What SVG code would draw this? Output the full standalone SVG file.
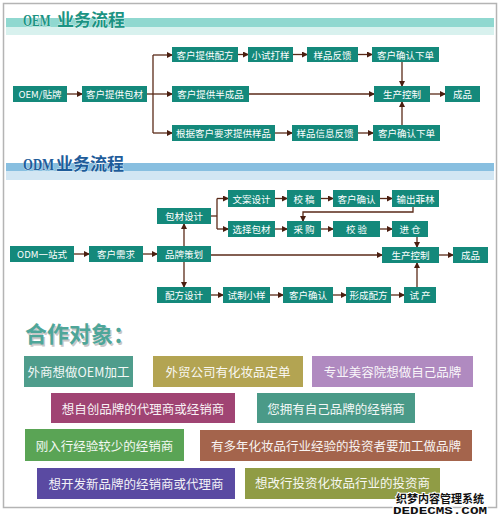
<svg xmlns="http://www.w3.org/2000/svg" width="500" height="522" viewBox="0 0 500 522">
<style>
.n rect{fill:#14897b}
.n text{fill:#fff;font-family:"Noto Sans CJK SC","Noto Sans",sans-serif;font-size:9.5px;text-anchor:middle;dominant-baseline:central}
.c path{fill:none;stroke:#5a2a18;stroke-width:1.3}
.b text{fill:#fff;font-family:"Noto Sans CJK SC","Noto Sans",sans-serif;font-size:12.5px;text-anchor:middle;dominant-baseline:central;opacity:0.93}
.ttl{font-family:"Liberation Serif","Noto Sans CJK SC",serif;font-weight:bold;font-size:17px;stroke:#fff;stroke-width:0.6;paint-order:stroke}
</style>
<defs>
<marker id="ah" markerWidth="6" markerHeight="6" refX="5" refY="3" orient="auto" markerUnits="userSpaceOnUse">
<path d="M0,0 L6,3 L0,6 Z" fill="#4a1e10"/>
</marker>
</defs>
<rect x="0" y="0" width="500" height="522" fill="#fff"/>
<rect x="3.5" y="3.5" width="493" height="504" fill="none" stroke="#b4b4b4" stroke-width="1.5"/>

<!-- OEM header -->
<rect x="6" y="18" width="488" height="9" fill="#90d8d0"/>
<rect x="6" y="27" width="488" height="8" fill="#d8f1ee"/>
<text class="ttl" transform="translate(23,26) scale(0.68,1)" fill="#1b9383">OEM</text>
<text class="ttl" x="57" y="26" fill="#1b9383">业务流程</text>

<!-- ODM header -->
<rect x="6" y="163" width="488" height="8" fill="#88bfe0"/>
<rect x="6" y="171" width="488" height="9" fill="#d2e6f3"/>
<text class="ttl" transform="translate(23,170) scale(0.75,1)" fill="#1e5c9a">ODM</text>
<text class="ttl" x="56" y="170" fill="#1e5c9a">业务流程</text>

<g class="c" id="connectors">
<path d="M67,94 H82" marker-end="url(#ah)"/>
<path d="M147,94 H172" marker-end="url(#ah)"/>
<path d="M153,55 V133"/>
<path d="M153,55 H172" marker-end="url(#ah)"/>
<path d="M153,133 H172" marker-end="url(#ah)"/>
<path d="M238,54.5 H248" marker-end="url(#ah)"/>
<path d="M293,54.5 H307" marker-end="url(#ah)"/>
<path d="M358,54.5 H372" marker-end="url(#ah)"/>
<path d="M402,62 V86" marker-end="url(#ah)"/>
<path d="M402,125 V102" marker-end="url(#ah)"/>
<path d="M249,94 H374" marker-end="url(#ah)"/>
<path d="M430,94 H445" marker-end="url(#ah)"/>
<path d="M275,133 H292" marker-end="url(#ah)"/>
<path d="M358,133 H373" marker-end="url(#ah)"/>

<path d="M74,254 H89" marker-end="url(#ah)"/>
<path d="M143,254 H157" marker-end="url(#ah)"/>
<path d="M184,246 V224" marker-end="url(#ah)"/>
<path d="M184,262 V287" marker-end="url(#ah)"/>
<path d="M211,216 H217"/>
<path d="M217,198.5 V229"/>
<path d="M217,198.5 H228" marker-end="url(#ah)"/>
<path d="M217,229 H228" marker-end="url(#ah)"/>
<path d="M275,198.5 H287" marker-end="url(#ah)"/>
<path d="M321,198.5 H333" marker-end="url(#ah)"/>
<path d="M380,198.5 H392" marker-end="url(#ah)"/>
<path d="M413,207 V212 H303 V221" marker-end="url(#ah)"/>
<path d="M275,229 H287" marker-end="url(#ah)"/>
<path d="M321,229 H333" marker-end="url(#ah)"/>
<path d="M380,229 H392" marker-end="url(#ah)"/>
<path d="M417,237 V247" marker-end="url(#ah)"/>
<path d="M211,255 H382" marker-end="url(#ah)"/>
<path d="M439,255 H453" marker-end="url(#ah)"/>
<path d="M211,295 H223" marker-end="url(#ah)"/>
<path d="M270,295 H283" marker-end="url(#ah)"/>
<path d="M333,295 H346" marker-end="url(#ah)"/>
<path d="M391,295 H404" marker-end="url(#ah)"/>
<path d="M417,287 V263" marker-end="url(#ah)"/>
</g>

<!-- OEM nodes -->
<g class="n" id="oem1"><rect x="13" y="86" width="54" height="16"/><text x="40" y="94">OEM/贴牌</text></g>
<g class="n" id="oem2"><rect x="82" y="86" width="65" height="16"/><text x="114.5" y="94">客户提供包材</text></g>
<g class="n" id="oem3"><rect x="172" y="47" width="66" height="15"/><text x="205" y="54.5">客户提供配方</text></g>
<g class="n" id="oem4"><rect x="172" y="86" width="77" height="16"/><text x="210.5" y="94">客户提供半成品</text></g>
<g class="n" id="oem5"><rect x="172" y="125" width="103" height="16"/><text x="223.5" y="133">根据客户要求提供样品</text></g>
<g class="n" id="oem6"><rect x="248" y="47" width="45" height="15"/><text x="270.5" y="54.5">小试打样</text></g>
<g class="n" id="oem7"><rect x="307" y="47" width="51" height="15"/><text x="332.5" y="54.5">样品反馈</text></g>
<g class="n" id="oem8"><rect x="372" y="47" width="67" height="15"/><text x="405.5" y="54.5">客户确认下单</text></g>
<g class="n" id="oem9"><rect x="374" y="86" width="56" height="16"/><text x="402" y="94">生产控制</text></g>
<g class="n" id="oem10"><rect x="445" y="86" width="35" height="16"/><text x="462.5" y="94">成品</text></g>
<g class="n" id="oem11"><rect x="292" y="125" width="66" height="16"/><text x="325" y="133">样品信息反馈</text></g>
<g class="n" id="oem12"><rect x="373" y="125" width="67" height="16"/><text x="406.5" y="133">客户确认下单</text></g>

<!-- ODM nodes -->
<g class="n" id="odm1"><rect x="10" y="246" width="64" height="16"/><text x="42" y="254">ODM一站式</text></g>
<g class="n" id="odm2"><rect x="89" y="246" width="54" height="16"/><text x="116" y="254">客户需求</text></g>
<g class="n" id="odm3"><rect x="157" y="246" width="54" height="16"/><text x="184" y="254">品牌策划</text></g>
<g class="n" id="odm4"><rect x="157" y="208" width="54" height="16"/><text x="184" y="216">包材设计</text></g>
<g class="n" id="odm5"><rect x="157" y="287" width="54" height="16"/><text x="184" y="295">配方设计</text></g>
<g class="n" id="odm6"><rect x="228" y="190" width="47" height="17"/><text x="251.5" y="198.5">文案设计</text></g>
<g class="n" id="odm7"><rect x="228" y="221" width="47" height="16"/><text x="251.5" y="229">选择包材</text></g>
<g class="n" id="odm8"><rect x="223" y="287" width="47" height="16"/><text x="246.5" y="295">试制小样</text></g>
<g class="n" id="odm9"><rect x="287" y="190" width="34" height="17"/><text x="304" y="198.5">校 稿</text></g>
<g class="n" id="odm10"><rect x="333" y="190" width="47" height="17"/><text x="356.5" y="198.5">客户确认</text></g>
<g class="n" id="odm11"><rect x="392" y="190" width="47" height="17"/><text x="415.5" y="198.5">输出菲林</text></g>
<g class="n" id="odm12"><rect x="287" y="221" width="34" height="16"/><text x="304" y="229">采 购</text></g>
<g class="n" id="odm13"><rect x="333" y="221" width="47" height="16"/><text x="356.5" y="229">校 验</text></g>
<g class="n" id="odm14"><rect x="392" y="221" width="36" height="16"/><text x="410" y="229">进 仓</text></g>
<g class="n" id="odm15"><rect x="382" y="247" width="57" height="16"/><text x="410.5" y="255">生产控制</text></g>
<g class="n" id="odm16"><rect x="453" y="247" width="35" height="16"/><text x="470.5" y="255">成品</text></g>
<g class="n" id="odm17"><rect x="283" y="287" width="50" height="16"/><text x="308" y="295">客户确认</text></g>
<g class="n" id="odm18"><rect x="346" y="287" width="45" height="16"/><text x="368.5" y="295">形成配方</text></g>
<g class="n" id="odm19"><rect x="404" y="287" width="32" height="16"/><text x="420" y="295">试 产</text></g>

<!-- cooperation -->
<text x="26.5" y="343.5" font-family="'Noto Sans CJK SC',sans-serif" font-weight="bold" font-size="22" fill="#c8c8c8">合作对象：</text>
<text x="25" y="342" font-family="'Noto Sans CJK SC',sans-serif" font-weight="bold" font-size="22" fill="#4ea699">合作对象：</text>

<g class="b" id="b1"><rect x="24" y="356" width="109" height="31" fill="#4f9d8c"/><text x="78.5" y="371.5">外商想做OEM加工</text></g>
<g class="b" id="b2"><rect x="153" y="356" width="150" height="31" fill="#b3a452"/><text x="228" y="371.5">外贸公司有化妆品定单</text></g>
<g class="b" id="b3"><rect x="312" y="356" width="161" height="31" fill="#b08ac0"/><text x="392.5" y="371.5">专业美容院想做自己品牌</text></g>
<g class="b" id="b4"><rect x="51" y="393" width="184" height="30" fill="#a04473"/><text x="143" y="408">想自创品牌的代理商或经销商</text></g>
<g class="b" id="b5"><rect x="257" y="393" width="158" height="30" fill="#4a9a88"/><text x="336" y="408">您拥有自己品牌的经销商</text></g>
<g class="b" id="b6"><rect x="25" y="429" width="159" height="32" fill="#5aa455"/><text x="104.5" y="445">刚入行经验较少的经销商</text></g>
<g class="b" id="b7"><rect x="200" y="430" width="272" height="31" fill="#a4644c"/><text x="336" y="445.5">有多年化妆品行业经验的投资者要加工做品牌</text></g>
<g class="b" id="b8"><rect x="37" y="468" width="198" height="31" fill="#5a4aa2"/><text x="136" y="483.5">想开发新品牌的经销商或代理商</text></g>
<g class="b" id="b9"><rect x="245" y="468" width="195" height="31" fill="#909c45"/><text x="342.5" y="482.5">想改行投资化妆品行业的投资商</text></g>

<!-- watermark -->
<text x="440" y="502.5" text-anchor="middle" font-family="'Noto Sans CJK SC',sans-serif" font-weight="bold" font-size="11" fill="#111" stroke="#fff" stroke-width="2" paint-order="stroke">织梦内容管理系统</text>
<text x="440" y="514" text-anchor="middle" font-family="'Liberation Mono',monospace" font-weight="bold" font-size="11" fill="#111" stroke="#fff" stroke-width="2" paint-order="stroke" textLength="94" lengthAdjust="spacingAndGlyphs">DEDECMS.COM</text>
</svg>
